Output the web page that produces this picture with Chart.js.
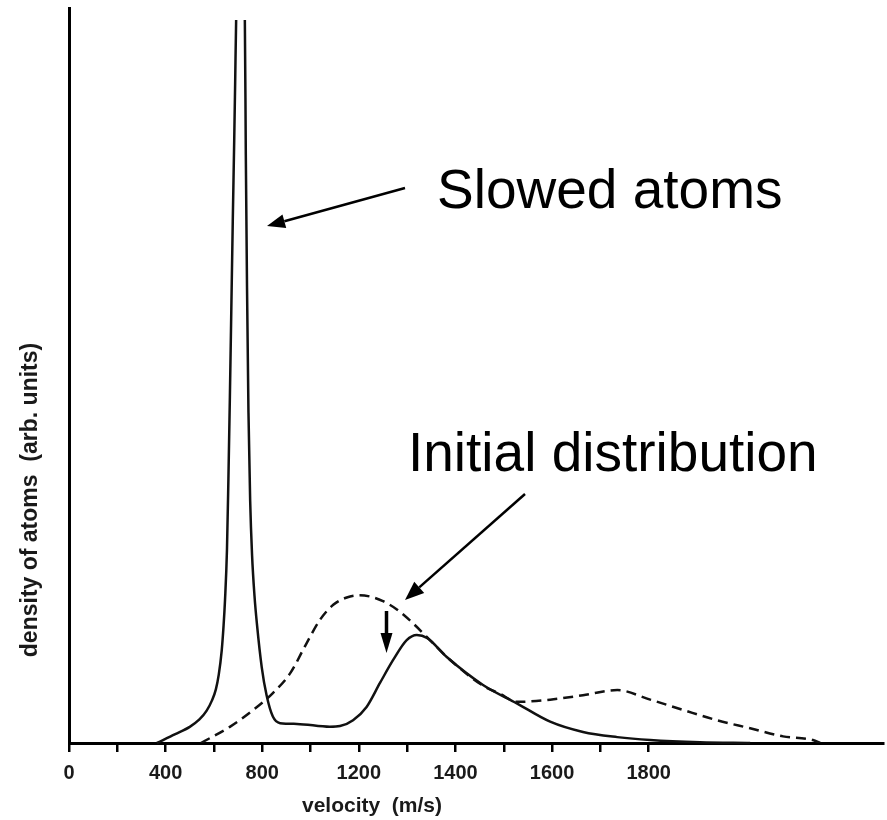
<!DOCTYPE html>
<html lang="en">
<head>
    <meta charset="UTF-8">
    <title>Slowed atoms velocity distribution</title>
    <script src="https://cdn.jsdelivr.net/npm/chart.js"></script>
    <style>
        body { margin: 0; background: #fff; }
    </style>
</head>
<body>
    <canvas id="velChart" width="887" height="820"></canvas>

    <script>
        // x values are in axis units: one tick = 100 (labels on the original are uneven)
        const tickValues = [0, 100, 200, 300, 400, 500, 600, 700, 800, 900, 1000, 1100, 1200];
        const tickLabels = ['0', '', '400', '', '800', '', '1200', '', '1400', '', '1600', '', '1800'];

        // solid curve: distribution after slowing
        const slowedVel = [182, 220, 250, 270, 285, 296, 304, 310, 316, 320, 323, 327, 330, 333, 336, 339,
                           342, 344, 346, 355,
                           364, 366, 368.5, 371.5, 375, 379, 384, 389, 399, 409, 422, 437, 472,
                           540, 561, 588, 616, 644, 671, 699, 720, 741, 782, 857, 927, 996,
                           1064, 1135, 1203, 1306, 1410];
        const slowedDensity = [0, 1.2, 2.2, 3.2, 4.4, 5.8, 7.3, 9.3, 12.5, 16.0, 19.5, 26.3, 36, 47, 59, 71,
                               82, 90, 98.4, 108,
                               98.4, 80, 62, 45, 33, 25.5, 20.0, 16.2, 10.3, 6.5, 3.6, 2.7, 2.6,
                               2.2, 2.3, 3.1, 4.9, 8.2, 11.3, 14.0, 14.7, 14.3, 11.7, 7.9, 5.4, 2.9,
                               1.5, 0.8, 0.4, 0.1, 0];

        // dashed curve: initial distribution
        const initialVel = [273, 333, 389, 422, 458, 492, 520, 547, 575, 600, 625, 650, 678, 712, 741,
                            789, 857, 892, 927, 996, 1064, 1135, 1203, 1271, 1341, 1410, 1478,
                            1540, 1555];
        const initialDensity = [0, 2.2, 4.9, 6.8, 9.5, 13.6, 16.8, 18.8, 19.8, 20.1, 19.9, 19.3, 18.2, 16.3, 14.4,
                                11.3, 7.8, 6.7, 5.6, 5.9, 6.5, 7.2, 5.9, 4.5, 3.1, 2.0, 0.9,
                                0.4, 0];

        const toPoints = (xs, ys) => xs.map((x, i) => ({ x: x, y: ys[i] }));

        function arrow(ctx, x1, y1, x2, y2, headLen, headW, lw) {
            const ang = Math.atan2(y2 - y1, x2 - x1);
            const bx = x2 - headLen * Math.cos(ang);
            const by = y2 - headLen * Math.sin(ang);
            ctx.save();
            ctx.strokeStyle = '#000';
            ctx.fillStyle = '#000';
            ctx.lineWidth = lw;
            ctx.beginPath();
            ctx.moveTo(x1, y1);
            ctx.lineTo(bx, by);
            ctx.stroke();
            ctx.beginPath();
            ctx.moveTo(x2, y2);
            ctx.lineTo(bx + headW / 2 * Math.sin(ang), by - headW / 2 * Math.cos(ang));
            ctx.lineTo(bx - headW / 2 * Math.sin(ang), by + headW / 2 * Math.cos(ang));
            ctx.closePath();
            ctx.fill();
            ctx.restore();
        }

        // labels, arrows and axis titles sit where the original has them
        const annotations = {
            id: 'annotations',
            afterDraw(chart) {
                const ctx = chart.ctx;
                ctx.save();
                ctx.fillStyle = '#000';
                ctx.textBaseline = 'alphabetic';
                ctx.textAlign = 'left';
                ctx.font = '55px "Liberation Sans", Arial, sans-serif';
                ctx.fillText('Slowed atoms', 437, 208);
                ctx.fillText('Initial distribution', 408, 471);

                arrow(ctx, 405, 188, 267, 226, 18, 14, 2.5);
                arrow(ctx, 525, 494, 405, 600, 19, 15, 2.5);
                arrow(ctx, 386.5, 611, 386.5, 653, 20, 12, 3.5);

                ctx.fillStyle = '#1a1a1a';
                ctx.textAlign = 'center';
                ctx.textBaseline = 'middle';
                ctx.font = 'bold 21px "Liberation Sans", Arial, sans-serif';
                ctx.fillText('velocity  (m/s)', 372, 806);

                ctx.translate(31, 500);
                ctx.rotate(-Math.PI / 2);
                ctx.font = 'bold 23px "Liberation Sans", Arial, sans-serif';
                ctx.fillText('density of atoms  (arb. units)', 0, 0);
                ctx.restore();
            }
        };

        const ctx = document.getElementById('velChart').getContext('2d');
        const velChart = new Chart(ctx, {
            type: 'line',
            data: {
                datasets: [{
                    label: 'Slowed atoms',
                    data: toPoints(slowedVel, slowedDensity),
                    borderColor: '#111',
                    borderWidth: 2.5,
                    pointRadius: 0,
                    cubicInterpolationMode: 'monotone',
                    clip: { left: 5, top: -12, right: 5, bottom: 5 }
                }, {
                    label: 'Initial distribution',
                    data: toPoints(initialVel, initialDensity),
                    borderColor: '#111',
                    borderWidth: 2.5,
                    borderDash: [10, 6],
                    pointRadius: 0,
                    cubicInterpolationMode: 'monotone'
                }]
            },
            options: {
                responsive: false,
                animation: false,
                layout: { padding: { top: 8, right: 4, left: 0, bottom: 0 } },
                plugins: {
                    legend: { display: false },
                    tooltip: { enabled: false }
                },
                scales: {
                    x: {
                        type: 'linear',
                        min: 0,
                        max: 1685,
                        afterBuildTicks: (scale) => {
                            scale.ticks = tickValues.map(v => ({ value: v }));
                        },
                        afterFit: (scale) => { scale.height = 77; },
                        grid: {
                            drawOnChartArea: false,
                            drawTicks: true,
                            tickLength: 9,
                            lineWidth: 2.5,
                            color: '#000'
                        },
                        border: { display: true, width: 3, color: '#000' },
                        ticks: {
                            autoSkip: false,
                            maxRotation: 0,
                            padding: 9,
                            color: '#1a1a1a',
                            font: { family: '"Liberation Sans", Arial, sans-serif', size: 20, weight: 'bold' },
                            callback: (value, index) => tickLabels[index]
                        }
                    },
                    y: {
                        min: 0,
                        max: 100,
                        afterFit: (scale) => { scale.width = 69; },
                        grid: { display: false },
                        border: { display: true, width: 3, color: '#000' },
                        ticks: { display: false }
                    }
                }
            },
            plugins: [annotations]
        });
    </script>
</body>
</html>
